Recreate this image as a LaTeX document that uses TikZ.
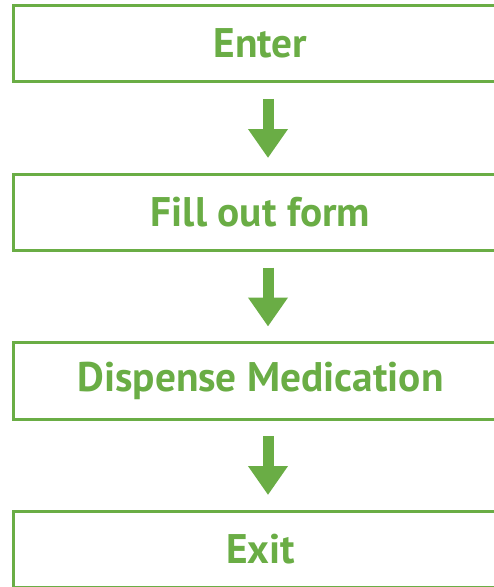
\documentclass[tikz,border=0pt]{standalone}
\usepackage{fontspec}
\setmainfont{PT Sans}
\usepackage{xcolor}
\usepackage{tikz}
\usetikzlibrary{arrows.meta, positioning}

\definecolor{stepgreen}{RGB}{106,173,69}

\begin{document}
\begin{tikzpicture}[x=1bp, y=-1bp]
\tikzstyle{stepbox} = [rectangle, draw=stepgreen, line width=3bp, minimum width=494bp, minimum height=76.5bp, text=stepgreen, font=\fontsize{41.5}{48}\selectfont\bfseries]
\tikzstyle{arrow} = [draw=stepgreen, line width=11bp, -{Triangle[width=38bp, length=29bp]}]

\clip (0,0) rectangle (494,587);
\fill [white] (0,0) rectangle (494,587);

\node (enter) [stepbox] at (260.5,43.75) {Enter};
\node (form) [stepbox, below=89bp of enter] {Fill out form};
\node (dispense) [stepbox, below=89bp of form] {Dispense Medication};
\node (exit) [stepbox, below=89bp of dispense] {Exit};

\draw [arrow] ([xshift=7.5bp, yshift=-15.5bp]enter.south) -- ([xshift=7.5bp, yshift=14.5bp]form.north);
\draw [arrow] ([xshift=7.5bp, yshift=-15.5bp]form.south) -- ([xshift=7.5bp, yshift=14.5bp]dispense.north);
\draw [arrow] ([xshift=7.5bp, yshift=-15.5bp]dispense.south) -- ([xshift=7.5bp, yshift=14.5bp]exit.north);

\end{tikzpicture}
\end{document}
